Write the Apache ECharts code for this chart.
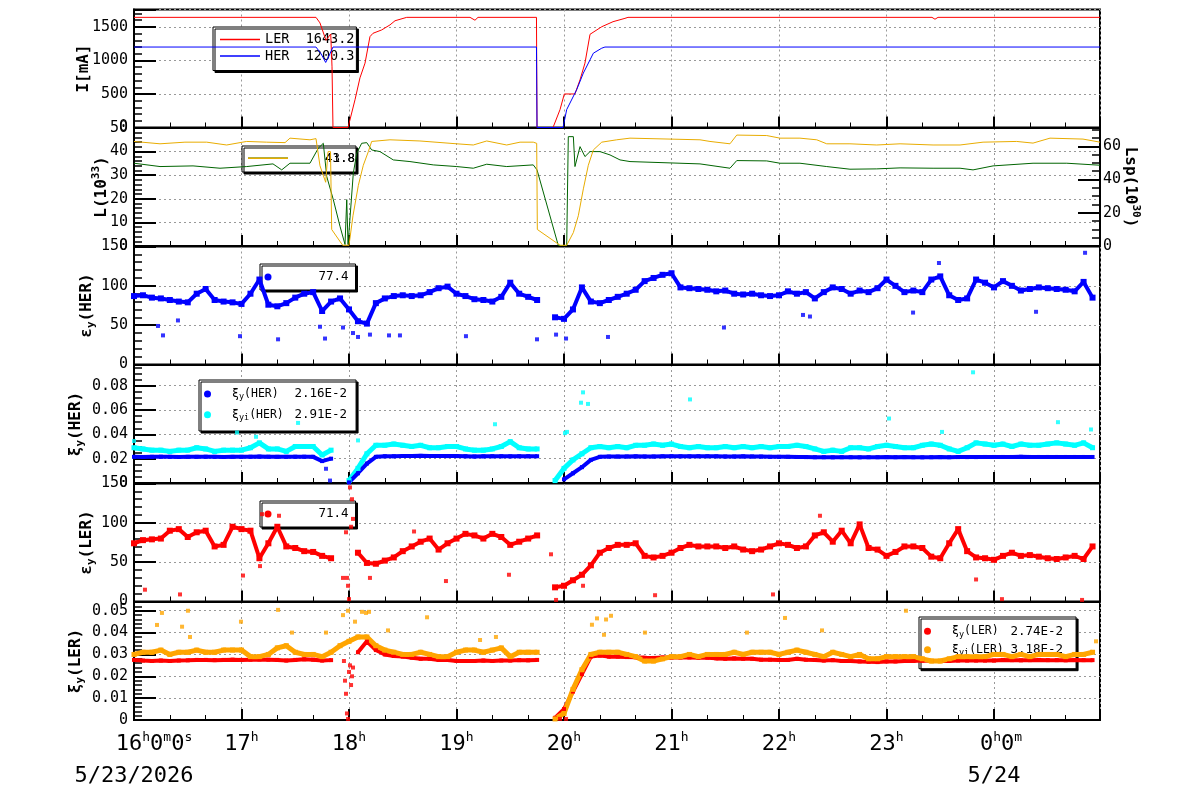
<!DOCTYPE html>
<html>
<head>
<meta charset="utf-8">
<script src="https://cdn.jsdelivr.net/npm/echarts@6/dist/echarts.min.js"></script>
<style>
  html, body { margin: 0; background: #fff; }
  #main { width: 1200px; height: 798px; }
</style>
</head>
<body>
<div id="main"></div>
<script>
  const mono = 'DejaVu Sans Mono';

  // time axis (hours since 0:00 of 5/23)
  const hourTicks = [16, 17, 18, 19, 20, 21, 22, 23, 24];
  const hourNames = ['16', '17', '18', '19', '20', '21', '22', '23', '0'];
  const dateNames = { 16: '5/23/2026', 24: '5/24' };

  // beam currents [hour, mA]
  const curLER = [[16, 1643], [17.693, 1643], [17.73, 1560], [17.786, 1300], [17.83, 1395], [17.842, 905], [17.851, 0],
    [17.991, 0], [18.0, 10], [18.056, 415], [18.102, 740], [18.149, 960], [18.195, 1355], [18.223, 1405], [18.304, 1455],
    [18.381, 1530], [18.428, 1592], [18.537, 1643], [19.126, 1643], [19.172, 1600], [19.2, 1643], [19.744, 1643],
    [19.749, 0], [19.898, 0], [19.963, 267], [20.003, 500], [20.102, 500], [20.149, 712], [20.195, 960], [20.242, 1390],
    [20.351, 1503], [20.456, 1578], [20.567, 1628], [20.595, 1643], [23.423, 1643], [23.451, 1615], [23.479, 1643], [24.986, 1643]];
  const curHER = [[16, 1200], [17.693, 1200], [17.74, 1100], [17.783, 970], [17.823, 1100], [17.851, 1200], [19.744, 1200],
    [19.749, 0], [19.991, 0], [20.025, 267], [20.118, 564], [20.18, 812], [20.242, 1009], [20.273, 1108], [20.351, 1183],
    [20.381, 1200], [24.986, 1200]];

  // luminosity: L (10^33, left axis) and Lsp (10^30, right axis)
  const lumL = [[16, 44.3], [16.242, 43.3], [16.474, 44], [16.676, 44], [16.862, 42.8], [17.048, 44.3], [17.234, 44],
    [17.405, 43.8], [17.451, 45.7], [17.637, 45], [17.693, 45.5], [17.73, 34], [17.783, 27], [17.805, 40], [17.828, 40],
    [17.839, 7], [17.941, 0.3], [18.0, 0.3], [18.009, 0.6], [18.037, 12.8], [18.087, 25.7], [18.133, 34.2], [18.18, 40],
    [18.211, 44.3], [18.381, 45], [18.66, 44.5], [19.002, 43.3], [19.156, 42.8], [19.281, 44.5], [19.467, 42.8],
    [19.591, 44], [19.714, 44], [19.746, 43.5], [19.752, 7], [19.963, 0.3], [20.025, 0.3], [20.087, 5.7], [20.133, 12.8],
    [20.18, 24.2], [20.226, 34.2], [20.273, 40.7], [20.351, 44], [20.49, 45], [20.614, 45.7], [21.265, 45], [21.358, 44.3],
    [21.544, 43.3], [21.607, 47], [21.886, 46.8], [22.009, 45.7], [22.195, 45.7], [22.351, 45], [22.444, 43.3],
    [22.66, 43.3], [22.909, 42.8], [23.126, 43.3], [23.433, 42.8], [23.684, 42.8], [23.898, 44], [24.211, 44.3],
    [24.363, 43.6], [24.521, 45.7], [24.828, 45.3], [24.986, 44]];
  const lumSp = [[16, 49.8], [16.242, 47.8], [16.549, 48.2], [16.8, 46.8], [17.048, 47.8], [17.293, 49.4], [17.374, 45.8],
    [17.451, 49.8], [17.637, 49.8], [17.714, 58.8], [17.761, 61.8], [17.793, 41.8], [17.854, 27.9], [17.916, 11.9],
    [17.963, 0.9], [17.979, 27.9], [17.991, 0.9], [18.009, 0.9], [18.04, 43.8], [18.072, 55.8], [18.118, 61.8],
    [18.165, 62.2], [18.211, 57.8], [18.288, 56.8], [18.412, 51.8], [18.567, 50.8], [18.784, 48.8], [19.002, 47.8],
    [19.156, 46.8], [19.281, 49.2], [19.467, 47.8], [19.714, 48.8], [19.749, 45.8], [19.947, 0.3], [20.025, 0.3],
    [20.04, 65.8], [20.087, 65.8], [20.102, 47.8], [20.149, 59.8], [20.195, 53.8], [20.242, 56.8], [20.335, 56.8],
    [20.428, 54.8], [20.521, 51.8], [20.614, 50.8], [21.265, 49.4], [21.544, 46.8], [21.607, 51.4], [21.886, 51.2],
    [22.009, 49.8], [22.195, 49.8], [22.444, 47.8], [22.66, 46.2], [22.909, 46.4], [23.126, 47], [23.433, 46.8],
    [23.684, 46.8], [23.805, 45.8], [23.991, 48.2], [24.363, 49.8], [24.677, 49.8], [24.986, 48.6]];

  // 5-minute samples starting 16:00 (one row per hour)
  const emitHER = [
    87, 88, 85, 84, 82, 80, 79, 90, 96, 82, 80, 79,
    77, 90, 108, 76, 74, 78, 85, 90, 92, 68, 80, 84,
    70, 55, 52, 78, 84, 87, 88, 87, 88, 92, 97, 99,
    90, 87, 83, 82, 80, 86, 104, 90, 86, 82, null, 60,
    58, 70, 98, 80, 78, 82, 86, 90, 95, 106, 110, 114,
    116, 98, 97, 96, 95, 93, 94, 90, 89, 90, 88, 87,
    88, 93, 90, 92, 84, 92, 98, 96, 90, 94, 92, 97,
    108, 100, 92, 94, 92, 108, 112, 88, 82, 84, 108, 104,
    98, 106, 100, 94, 96, 98, 97, 96, 95, 93, 105, 85];
  const xiHER = [
    .0215, .0214, .0215, .0216, .0215, .0214, .0215, .0215, .0216, .0215, .0214, .0215,
    .0215, .0216, .0217, .0216, .0215, .0215, .0216, .0216, .0215, .018, .020, null,
    .0005, .008, .016, .0215, .022, .022, .0222, .0222, .0223, .0222, .0222, .0221,
    .0221, .022, .0218, .0219, .022, .022, .0219, .022, .022, .022, null, null,
    .003, .008, .013, .019, .0215, .0217, .0217, .0218, .0219, .0218, .0218, .0219,
    .022, .0219, .0219, .022, .022, .0219, .0218, .0218, .0219, .0218, .0217, .0215,
    .0215, .0215, .0214, .0213, .0212, .0212, .0211, .0212, .0212, .0211, .0212, .0212,
    .0213, .0212, .0213, .0212, .0211, .0212, .0213, .0212, .0213, .0213, .0213, .0214,
    .0214, .0214, .0214, .0215, .0214, .0214, .0214, .0214, .0214, .0214, .0214, .0214];
  const xiiHER = [
    .029, .028, .027, .027, .026, .027, .027, .029, .028, .026, .027, .027,
    .027, .029, .033, .028, .028, .026, .030, .030, .030, .023, .027, null,
    .002, .012, .024, .031, .031, .032, .031, .030, .031, .029, .029, .030,
    .030, .028, .027, .027, .028, .030, .034, .029, .028, .028, null, .002,
    .012, .019, .024, .029, .030, .029, .030, .029, .031, .031, .032, .031,
    .032, .030, .029, .030, .029, .029, .030, .029, .030, .029, .030, .029,
    .030, .030, .031, .030, .028, .026, .027, .026, .029, .029, .028, .030,
    .031, .030, .029, .029, .031, .032, .031, .028, .026, .029, .033, .032,
    .031, .032, .030, .032, .031, .031, .032, .033, .032, .031, .033, .029];
  const emitLER = [
    74, 78, 79, 80, 90, 92, 82, 88, 90, 70, 72, 95,
    92, 90, 55, 74, 95, 70, 68, 64, 63, 58, 55, null,
    null, 62, 49, 48, 52, 56, 64, 70, 76, 80, 66, 74,
    80, 86, 84, 80, 86, 82, 72, 76, 80, 84, null, 18,
    20, 27, 34, 46, 62, 68, 72, 72, 74, 58, 56, 58,
    62, 68, 72, 70, 70, 70, 68, 70, 66, 64, 66, 70,
    74, 72, 68, 70, 84, 88, 76, 90, 74, 98, 68, 66,
    58, 63, 70, 70, 68, 57, 55, 74, 92, 64, 56, 55,
    53, 58, 62, 58, 59, 57, 55, 54, 56, 58, 54, 70];
  const xiLER = [
    .0275, .0272, .027, .0272, .027, .0272, .0273, .0275, .0275, .0274, .0275, .0276,
    .0275, .0276, .0277, .0276, .0275, .0272, .0275, .0278, .0276, .0272, .0274, null,
    null, .031, .036, .032, .030, .0293, .029, .0285, .028, .028, .0275, .0275,
    .027, .027, .027, .0272, .027, .0272, .0272, .0274, .0273, .0275, null, .001,
    .005, .013, .021, .029, .0295, .029, .029, .0288, .0287, .0285, .0284, .0286,
    .0286, .0286, .0286, .0285, .0285, .0282, .028, .0282, .028, .028, .0276, .0276,
    .0275, .0275, .028, .0276, .0275, .0272, .0274, .027, .027, .0268, .0266, .0265,
    .0268, .0268, .027, .027, .0272, .027, .027, .027, .0272, .0272, .0272, .0272,
    .0272, .0275, .0274, .0273, .0274, .0275, .0274, .0274, .0273, .0275, .0274, .0274];
  const xiiLER = [
    .030, .031, .031, .032, .030, .031, .031, .032, .031, .031, .032, .032,
    .032, .029, .029, .030, .033, .034, .031, .030, .030, .029, .031, .034,
    .036, .038, .038, .034, .032, .031, .030, .030, .031, .030, .029, .029,
    .031, .032, .032, .031, .032, .033, .029, .031, .031, .031, null, .0005,
    .003, .014, .023, .030, .031, .031, .031, .030, .029, .027, .027, .028,
    .029, .029, .030, .029, .030, .030, .030, .031, .030, .031, .031, .031,
    .030, .031, .032, .031, .030, .029, .031, .030, .029, .030, .028, .028,
    .029, .029, .029, .029, .028, .027, .027, .028, .029, .029, .029, .029,
    .030, .030, .029, .030, .029, .030, .030, .030, .029, .030, .030, .031];

  // isolated points [hour, value]
  const emitHERout = [[16.223, 49], [16.27, 37], [16.409, 56], [16.986, 36], [17.34, 32], [17.73, 48], [17.777, 33],
    [17.944, 47], [18.037, 40], [18.084, 35], [18.195, 38], [18.372, 37], [18.474, 37], [19.088, 36], [19.749, 32],
    [19.926, 38], [20.019, 33], [20.409, 35], [21.488, 47], [22.223, 63], [22.288, 61], [23.247, 66], [23.488, 129],
    [24.391, 67], [24.847, 142]];
  const xiHERout = [[17.786, .0117], [17.823, .002]];
  const xiiHERout = [[16.0, .0345], [16.958, .0415], [17.135, .038], [17.526, .0494], [18.084, .035], [19.358, .0483],
    [20.009, .041], [20.028, .042], [20.158, .066], [20.177, .0745], [20.223, .065], [21.172, .0687], [23.023, .053],
    [23.516, .042], [23.805, .091], [24.595, .05], [24.902, .044]];
  const emitLERout = [[16.102, 15], [16.428, 9], [17.014, 33], [17.172, 45], [17.191, 111], [17.349, 109], [17.944, 30],
    [17.972, 88], [17.981, 30], [17.991, 20], [18.0, 3], [18.009, 145], [18.019, 95], [18.028, 130], [18.037, 105],
    [18.195, 30], [18.605, 89], [18.902, 26], [19.488, 34], [19.879, 60], [19.926, 2], [20.177, 20], [20.847, 8],
    [21.944, 9], [22.381, 109], [23.833, 28], [24.074, 3], [24.819, 2]];
  const xiLERout = [[17.953, .027], [17.963, .018], [17.972, .012], [17.981, .003], [17.991, .0005], [18.0, .022],
    [18.009, .025], [18.019, .016], [18.028, .020], [18.037, .024], [19.963, .0005], [20.019, .0005]];
  const xiiLERout = [[16.214, .0435], [16.26, .049], [16.447, .0427], [16.502, .050], [16.521, .038], [16.995, .045],
    [17.34, .0504], [17.47, .040], [17.786, .040], [17.944, .048], [17.991, .050], [18.056, .045], [18.121, .0495],
    [18.158, .049], [18.186, .0495], [18.363, .041], [18.726, .047], [19.219, .0366], [19.367, .038], [20.26, .0436],
    [20.307, .0465], [20.372, .039], [20.391, .046], [20.437, .0477], [20.753, .040], [21.702, .040], [22.056, .0467],
    [22.4, .041], [23.181, .050], [24.949, .036]];

  // legend readouts
  const legendVals = { LER: '1643.2', HER: '1200.3', L: '43.8', Lsp: '41.8', emitHER: '77.4',
    xiHER: '2.16E-2', xiiHER: '2.91E-2', emitLER: '71.4', xiLER: '2.74E-2', xiiLER: '3.18E-2' };

  function fiveMin(vals) {
    return vals.map((v, i) => [16 + i / 12, v === null ? '-' : v]);
  }

  const tops = [9.5, 128, 246.5, 365, 483.5, 602];
  const grids = tops.map(t => ({
    left: 134, right: 100, top: t, height: 118, show: true,
    backgroundColor: '#fff', borderColor: '#000', borderWidth: 2
  }));

  const xAxes = tops.map((t, k) => ({
    type: 'value', gridIndex: k, min: 16, max: 24.986, interval: 1,
    axisLine: { show: true, onZero: false, lineStyle: { color: '#000', width: 2 } },
    axisTick: { show: true, inside: true, length: 11, lineStyle: { color: '#000', width: 2 } },
    minorTick: { show: true, splitNumber: 3, length: 5, lineStyle: { color: '#000', width: 1 } },
    splitLine: { show: true, lineStyle: { color: '#999', width: 1, type: [2, 3] } },
    axisLabel: {
      show: k === 5, margin: 10, showMinLabel: true, showMaxLabel: false,
      formatter: v => {
        const j = hourTicks.findIndex(h => Math.abs(h - v) < 1e-6);
        if (j < 0) return '';
        if (j === 0) return '{p|}{n|' + hourNames[0] + '}{s|h}{n|0}{s|m}{n|0}{s|s}\n{d|' + dateNames[16] + '}';
        if (j === 8) return '{q|}{n|' + hourNames[8] + '}{s|h}{n|0}{s|m}\n{d|' + dateNames[24] + '}';
        return '{n|' + hourNames[j] + '}{s|h}';
      },
      rich: {
        n: { fontFamily: mono, fontSize: 22, lineHeight: 28, color: '#000' },
        s: { fontFamily: mono, fontSize: 13, color: '#000', padding: [0, 0, 12, 0] },
        d: { fontFamily: mono, fontSize: 22, lineHeight: 36, color: '#000' },
        p: { width: 40 },
        q: { width: 14 }
      }
    }
  }));

  const nameRich = {
    n: { fontFamily: mono, fontSize: 16, fontWeight: 'bold', color: '#000' },
    b: { fontFamily: mono, fontSize: 11, fontWeight: 'bold', color: '#000', padding: [10, 0, 0, 0] },
    t: { fontFamily: mono, fontSize: 11, fontWeight: 'bold', color: '#000', padding: [0, 0, 10, 0] }
  };
  const plain = v => String(v);

  function yAx(k, o) {
    return Object.assign({
      type: 'value', gridIndex: k, min: 0,
      axisLine: { show: true, lineStyle: { color: '#000', width: 2 } },
      axisTick: { show: true, inside: true, length: 22, lineStyle: { color: '#000', width: 2 } },
      minorTick: { show: true, length: 8, lineStyle: { color: '#000', width: 1.5 } },
      splitLine: { show: true, lineStyle: { color: '#999', width: 1, type: [2, 3] } },
      axisLabel: { fontFamily: mono, fontSize: 15, color: '#000', margin: 6, formatter: plain },
      nameLocation: 'middle', nameMoveOverlap: false,
      nameTextStyle: { fontFamily: mono, fontSize: 16, fontWeight: 'bold', color: '#000', rich: nameRich }
    }, o);
  }
  const minor = n => ({ show: true, splitNumber: n, length: 8, lineStyle: { color: '#000', width: 1.5 } });
  const noMaxLabel = (m) => ({ fontFamily: mono, fontSize: 15, color: '#000', margin: m, showMaxLabel: false, formatter: plain });

  const yAxes = [
    yAx(0, { max: 1760, interval: 500, minorTick: minor(5), axisLabel: noMaxLabel(6),
      name: '{n|I[mA]}', nameGap: 42 }),
    yAx(1, { max: 50, interval: 10, minorTick: minor(5),
      name: '{n|L(10}{t|33}{n|)}', nameGap: 22 }),
    yAx(1, { max: 71, interval: 20, position: 'right', splitLine: { show: false }, minorTick: minor(4),
      axisLabel: noMaxLabel(3),
      name: '{n|Lsp(10}{t|30}{n|)}', nameGap: 20, nameRotate: -90 }),
    yAx(2, { max: 150, interval: 50, minorTick: minor(5),
      name: '{n|ε}{b|y}{n|(HER)}', nameGap: 37 }),
    yAx(3, { max: 0.097, interval: 0.02, minorTick: minor(4), axisLabel: noMaxLabel(6),
      name: '{n|ξ}{b|y}{n|(HER)}', nameGap: 48 }),
    yAx(4, { max: 150, interval: 50, minorTick: minor(5),
      name: '{n|ε}{b|y}{n|(LER)}', nameGap: 37 }),
    yAx(5, { max: 0.054, interval: 0.01, minorTick: minor(5), axisLabel: noMaxLabel(6),
      name: '{n|ξ}{b|y}{n|(LER)}', nameGap: 48 })
  ];

  function trace(name, xi, yi, data, color) {
    return { name, type: 'line', xAxisIndex: xi, yAxisIndex: yi, data, color, symbol: 'none',
      lineStyle: { width: 1, color }, z: 3 };
  }
  function band(name, xi, yi, vals, color, lw, ss) {
    return { name, type: 'line', xAxisIndex: xi, yAxisIndex: yi, data: fiveMin(vals), color,
      connectNulls: false, symbol: 'rect', symbolSize: ss, showSymbol: true,
      lineStyle: { width: lw, color }, itemStyle: { color }, z: 3 };
  }
  function dots(name, xi, yi, data, color) {
    return { name, type: 'scatter', xAxisIndex: xi, yAxisIndex: yi, data, color,
      symbol: 'rect', symbolSize: 4, itemStyle: { color }, z: 3 };
  }

  const cRed = '#ff0000', cBlue = '#0000ff', cOrangeL = '#e8ac00', cGreen = '#006400', cCyan = '#00ffff', cOrange = '#ffa500';

  const series = [
    trace('LER', 0, 0, curLER, cRed),
    trace('HER', 0, 0, curHER, cBlue),
    trace('Lsp', 1, 2, lumSp, cGreen),
    trace('L', 1, 1, lumL, cOrangeL),
    band('emitHER', 2, 3, emitHER, cBlue, 4, 6),
    dots('emitHERo', 2, 3, emitHERout, cBlue),
    band('xiiHER', 3, 4, xiiHER, cCyan, 5, 5),
    dots('xiiHERo', 3, 4, xiiHERout, cCyan),
    band('xiHER', 3, 4, xiHER, cBlue, 4, 4),
    dots('xiHERo', 3, 4, xiHERout, cBlue),
    band('emitLER', 4, 5, emitLER, cRed, 4, 6),
    dots('emitLERo', 4, 5, emitLERout, cRed),
    band('xiLER', 5, 6, xiLER, cRed, 4, 4),
    dots('xiLERo', 5, 6, xiLERout, cRed),
    band('xiiLER', 5, 6, xiiLER, cOrange, 5, 5),
    dots('xiiLERo', 5, 6, xiiLERout, cOrange)
  ];

  const boxStyle = {
    orient: 'vertical', z: 1, selectedMode: false, backgroundColor: '#fff',
    borderColor: '#000', borderWidth: 1, borderRadius: 0,
    shadowColor: '#000', shadowBlur: 0, shadowOffsetX: 2, shadowOffsetY: 2
  };
  const fs = 12.5;
  const txt = (rich) => ({ fontFamily: mono, fontSize: fs, color: '#000', rich });
  const baseRich = {
    n: { fontFamily: mono, fontSize: 11.5, color: '#000' },
    s: { fontFamily: mono, fontSize: 8.5, color: '#000', padding: [6, 0, 0, 0] },
    p: { width: 16 }
  };
  const rightBlock = (w) => ({ fontFamily: mono, fontSize: fs, color: '#000', width: w, align: 'right' });

  const legends = [
    Object.assign({}, boxStyle, {
      left: 213, top: 27, padding: [5.5, 2, 7.5, 7], itemGap: 2.5, itemWidth: 40, itemHeight: 1.5,
      data: [{ name: 'LER', icon: 'rect' }, { name: 'HER', icon: 'rect' }],
      textStyle: { fontFamily: mono, fontSize: 13.5, color: '#000',
        rich: { n: { fontFamily: mono, fontSize: 13.5, color: '#000' } } },
      formatter: n => '{n|' + n + '  ' + legendVals[n] + '}'
    }),
    Object.assign({}, boxStyle, {
      left: 242, top: 146, padding: [5.8, 1, 7.2, 6], itemWidth: 40, itemHeight: 1.5,
      data: [{ name: 'Lsp', icon: 'rect' }],
      textStyle: txt(Object.assign({ r: rightBlock(62) }, baseRich)),
      formatter: n => '{r|' + legendVals[n] + '}'
    }),
    Object.assign({}, boxStyle, {
      left: 242, top: 146, padding: [5.8, 1, 7.2, 6], itemWidth: 40, itemHeight: 1.5,
      backgroundColor: 'transparent', borderWidth: 0, shadowOffsetX: 0, shadowOffsetY: 0, shadowColor: 'transparent',
      data: [{ name: 'L', icon: 'rect' }],
      textStyle: txt(Object.assign({ r: rightBlock(62) }, baseRich)),
      formatter: n => '{r|' + legendVals[n] + '}'
    }),
    Object.assign({}, boxStyle, {
      left: 260, top: 264, padding: [6.5, 7, 6.5, 4.5], itemWidth: 7, itemHeight: 7,
      data: [{ name: 'emitHER', icon: 'circle' }],
      textStyle: txt(Object.assign({ r: rightBlock(72) }, baseRich)),
      formatter: n => '{r|' + legendVals[n] + '}'
    }),
    Object.assign({}, boxStyle, {
      left: 199, top: 380, padding: [7.5, 9, 8.8, 5], itemGap: 6.7, itemWidth: 7, itemHeight: 7,
      data: [{ name: 'xiHER', icon: 'circle' }, { name: 'xiiHER', icon: 'circle' }],
      textStyle: txt(Object.assign({ v: rightBlock(68.4), w: rightBlock(63.3) }, baseRich)),
      formatter: n => n === 'xiHER'
        ? '{p|}{n|ξ}{s|y}{n|(HER)}{v|' + legendVals[n] + '}'
        : '{p|}{n|ξ}{s|yi}{n|(HER)}{w|' + legendVals[n] + '}'
    }),
    Object.assign({}, boxStyle, {
      left: 260, top: 501, padding: [6.5, 7, 6.5, 4.5], itemWidth: 7, itemHeight: 7,
      data: [{ name: 'emitLER', icon: 'circle' }],
      textStyle: txt(Object.assign({ r: rightBlock(72) }, baseRich)),
      formatter: n => '{r|' + legendVals[n] + '}'
    }),
    Object.assign({}, boxStyle, {
      left: 919, top: 617, padding: [7.8, 13, 11.5, 5], itemGap: 4.4, itemWidth: 7, itemHeight: 7,
      data: [{ name: 'xiLER', icon: 'circle' }, { name: 'xiiLER', icon: 'circle' }],
      textStyle: txt(Object.assign({ v: rightBlock(64.4), w: rightBlock(59.3) }, baseRich)),
      formatter: n => n === 'xiLER'
        ? '{p|}{n|ξ}{s|y}{n|(LER)}{v|' + legendVals[n] + '}'
        : '{p|}{n|ξ}{s|yi}{n|(LER)}{w|' + legendVals[n] + '}'
    })
  ];

  const chart = echarts.init(document.getElementById('main'), null, { renderer: 'canvas' });
  chart.setOption({
    animation: false,
    backgroundColor: '#fff',
    grid: grids,
    xAxis: xAxes,
    yAxis: yAxes,
    legend: legends,
    series: series
  });
</script>
</body>
</html>
